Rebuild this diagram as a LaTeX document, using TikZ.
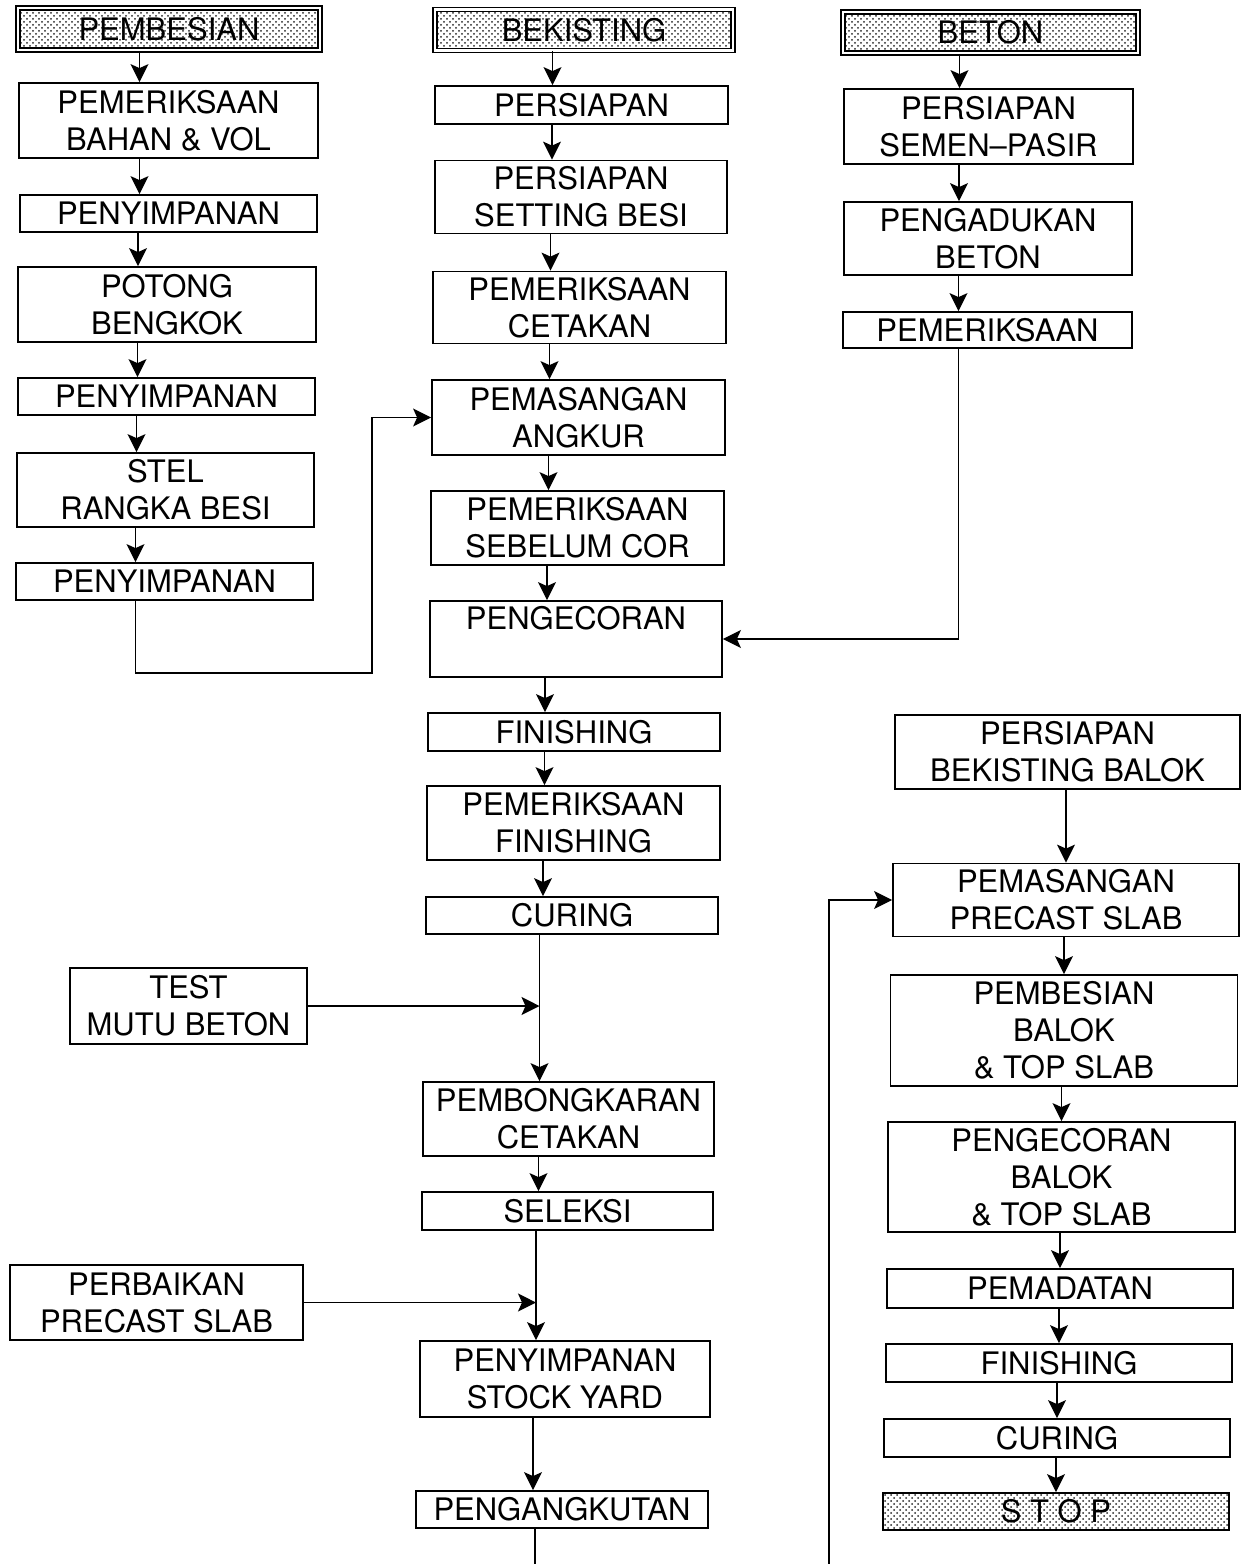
\documentclass[tikz,border=0pt]{standalone}
\usepackage{fontspec}
\setmainfont{TeX Gyre Heros}
\usetikzlibrary{arrows.meta,patterns}
\definecolor{DotClr}{rgb}{0.15,0.15,0.15}

\begin{document}
\begin{tikzpicture}[x=0.5pt,y=-0.5pt,
  box/.style={draw,line width=0.9pt,inner sep=0pt,align=center,font=\fontsize{15.5}{18.5}\selectfont},
  sz/.style 2 args={minimum width=#1*0.5pt,minimum height=#2*0.5pt},
  dotted box/.style={box,pattern=crosshatch dots,pattern color=DotClr},
  head/.style={dotted box,double,double distance=1.1pt},
  arr/.style={line width=0.7pt,-{Stealth[length=9pt,width=9pt,inset=2pt]}},
  wire/.style={line width=0.7pt}]
\useasboundingbox (0,0) rectangle (1250,1564);

\node[head,sz={302}{42}] (p0) at (169,29) {PEMBESIAN};
\node[box,sz={299}{75}] (p1) at (168.5,120.5) {PEMERIKSAAN\\BAHAN \& VOL};
\node[box,sz={297}{37}] (p2) at (168.5,213.5) {PENYIMPANAN};
\node[box,sz={298}{75}] (p3) at (167,304.5) {POTONG\\BENGKOK};
\node[box,sz={297}{37}] (p4) at (166.5,396.5) {PENYIMPANAN};
\node[box,sz={297}{74}] (p5) at (165.5,490) {STEL\\RANGKA BESI};
\node[box,sz={297}{37}] (p6) at (164.5,581.5) {PENYIMPANAN};

\node[head,sz={298}{41}] (b0) at (584,30) {BEKISTING};
\node[box,sz={293}{38}] (b1) at (581.5,105) {PERSIAPAN};
\node[box,sz={292}{73}] (b2) at (581,197) {PERSIAPAN\\SETTING BESI};
\node[box,sz={293}{72}] (b3) at (579.5,307.5) {PEMERIKSAAN\\CETAKAN};
\node[box,sz={293}{75}] (b4) at (578.5,417.5) {PEMASANGAN\\ANGKUR};
\node[box,sz={293}{74}] (b5) at (577.5,528) {PEMERIKSAAN\\SEBELUM COR};
\node[box,sz={292}{76},text height=12pt,text depth=22pt] (b6) at (576,639) {PENGECORAN};
\node[box,sz={292}{38}] (b7) at (574,732) {FINISHING};
\node[box,sz={293}{74}] (b8) at (573.5,823) {PEMERIKSAAN\\FINISHING};
\node[box,sz={292}{37}] (b9) at (572,915.5) {CURING};
\node[box,sz={237}{76}] (tm) at (188.5,1006) {TEST\\MUTU BETON};
\node[box,sz={291}{74}] (b10) at (568.5,1119) {PEMBONGKARAN\\CETAKAN};
\node[box,sz={291}{38}] (b11) at (567.5,1211) {SELEKSI};
\node[box,sz={293}{75}] (pb) at (156.5,1302.5) {PERBAIKAN\\PRECAST SLAB};
\node[box,sz={290}{76}] (b12) at (565,1379) {PENYIMPANAN\\STOCK YARD};
\node[box,sz={292}{37}] (b13) at (562,1509.5) {PENGANGKUTAN};

\node[head,sz={295}{41}] (t0) at (990.5,32.5) {BETON};
\node[box,sz={289}{75}] (t1) at (988.5,126.5) {PERSIAPAN\\SEMEN--PASIR};
\node[box,sz={288}{73}] (t2) at (988,238.5) {PENGADUKAN\\BETON};
\node[box,sz={289}{36}] (t3) at (987.5,330) {PEMERIKSAAN};

\node[box,sz={345}{74}] (r0) at (1067.5,752) {PERSIAPAN\\BEKISTING BALOK};
\node[box,sz={346}{73}] (r1) at (1066,900) {PEMASANGAN\\PRECAST SLAB};
\node[box,sz={347}{111}] (r2) at (1064,1030.5) {PEMBESIAN\\BALOK\\\& TOP SLAB};
\node[box,sz={347}{110}] (r3) at (1061.5,1177) {PENGECORAN\\BALOK\\\& TOP SLAB};
\node[box,sz={346}{39}] (r4) at (1060,1288.5) {PEMADATAN};
\node[box,sz={346}{38}] (r5) at (1059,1363) {FINISHING};
\node[box,sz={346}{38}] (r6) at (1057,1438) {CURING};
\node[dotted box,sz={346}{37}] (r7) at (1056,1511.5) {S T O P};

\coordinate (k1) at (372,673);
\coordinate (out1) at (535,1564);
\coordinate (in1) at (829,1564);

\draw[arr] ([xshift=-14.5pt]p1.north |- p0.south) -- ([xshift=-14.5pt]p1.north);
\draw[arr] ([xshift=-14.5pt]p2.north |- p1.south) -- ([xshift=-14.5pt]p2.north);
\draw[arr] ([xshift=-14.5pt]p3.north |- p2.south) -- ([xshift=-14.5pt]p3.north);
\draw[arr] ([xshift=-14.5pt]p4.north |- p3.south) -- ([xshift=-14.5pt]p4.north);
\draw[arr] ([xshift=-14.5pt]p5.north |- p4.south) -- ([xshift=-14.5pt]p5.north);
\draw[arr] ([xshift=-14.5pt]p6.north |- p5.south) -- ([xshift=-14.5pt]p6.north);
\draw[arr] ([xshift=-14.5pt]p6.south) |- (k1) |- (b4.west);

\draw[arr] ([xshift=-14.5pt]b1.north |- b0.south) -- ([xshift=-14.5pt]b1.north);
\draw[arr] ([xshift=-14.5pt]b2.north |- b1.south) -- ([xshift=-14.5pt]b2.north);
\draw[arr] ([xshift=-14.5pt]b3.north |- b2.south) -- ([xshift=-14.5pt]b3.north);
\draw[arr] ([xshift=-14.5pt]b4.north |- b3.south) -- ([xshift=-14.5pt]b4.north);
\draw[arr] ([xshift=-14.5pt]b5.north |- b4.south) -- ([xshift=-14.5pt]b5.north);
\draw[arr] ([xshift=-14.5pt]b6.north |- b5.south) -- ([xshift=-14.5pt]b6.north);
\draw[arr] ([xshift=-14.5pt]b7.north |- b6.south) -- ([xshift=-14.5pt]b7.north);
\draw[arr] ([xshift=-14.5pt]b8.north |- b7.south) -- ([xshift=-14.5pt]b8.north);
\draw[arr] ([xshift=-14.5pt]b9.north |- b8.south) -- ([xshift=-14.5pt]b9.north);
\draw[arr] ([xshift=-14.5pt]b10.north |- b9.south) -- ([xshift=-14.5pt]b10.north);
\draw[arr] ([xshift=-14.5pt]b11.north |- b10.south) -- ([xshift=-14.5pt]b11.north);
\draw[arr] ([xshift=-14.5pt]b12.north |- b11.south) -- ([xshift=-14.5pt]b12.north);
\draw[arr] ([xshift=-14.5pt]b13.north |- b12.south) -- ([xshift=-14.5pt]b13.north);
\draw[arr] (tm.east) -- ([xshift=-14.5pt]b10.north |- tm.east);
\draw[arr] (pb.east) -- ([xshift=-14.5pt]b12.north |- pb.east);
\draw[wire] ([xshift=-13.5pt]b13.south) -- (out1);

\draw[arr] ([xshift=-14.5pt]t1.north |- t0.south) -- ([xshift=-14.5pt]t1.north);
\draw[arr] ([xshift=-14.5pt]t2.north |- t1.south) -- ([xshift=-14.5pt]t2.north);
\draw[arr] ([xshift=-14.5pt]t3.north |- t2.south) -- ([xshift=-14.5pt]t3.north);
\draw[arr] ([xshift=-14.5pt]t3.south) |- (b6.east);

\draw[arr] (r1.north |- r0.south) -- (r1.north);
\draw[arr] (r2.north |- r1.south) -- (r2.north);
\draw[arr] (r3.north |- r2.south) -- (r3.north);
\draw[arr] (r4.north |- r3.south) -- (r4.north);
\draw[arr] (r5.north |- r4.south) -- (r5.north);
\draw[arr] (r6.north |- r5.south) -- (r6.north);
\draw[arr] (r7.north |- r6.south) -- (r7.north);
\draw[arr] (in1) |- (r1.west);

\end{tikzpicture}
\end{document}
